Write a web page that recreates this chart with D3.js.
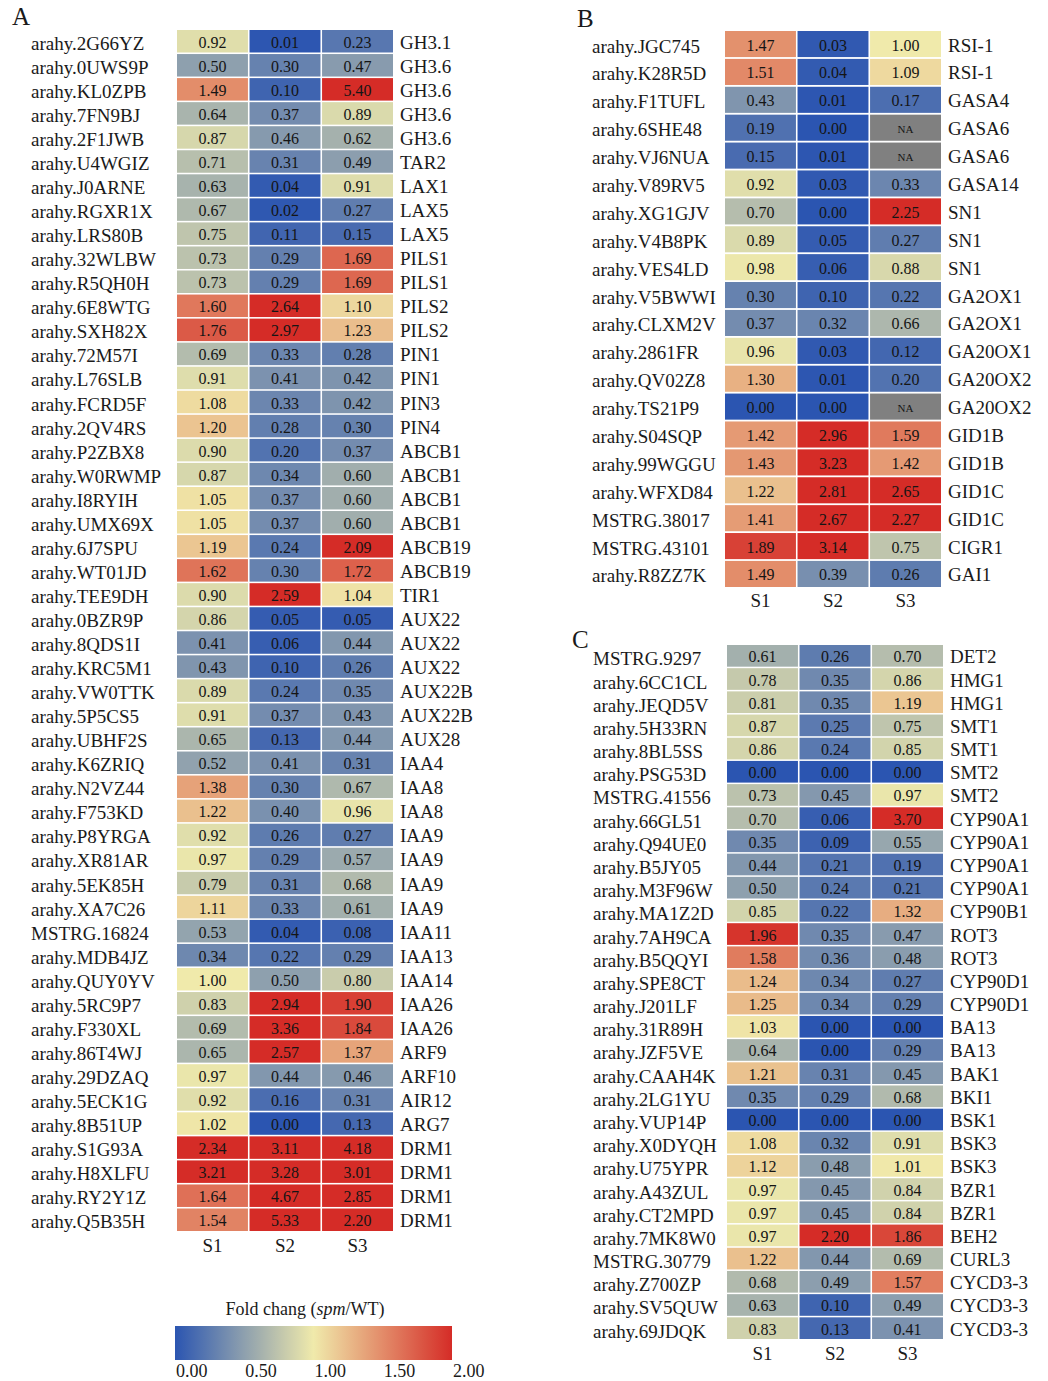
<!DOCTYPE html>
<html>
<head>
<meta charset="utf-8">
<script src="https://cdn.jsdelivr.net/npm/d3@7/dist/d3.min.js"></script>
<style>
  html, body { margin: 0; padding: 0; background: #fff; }
  svg { display: block; }
</style>
</head>
<body>
<svg id="chart" width="1048" height="1381"></svg>
<script>
// ---------------- DATA ----------------
const samples = ["S1", "S2", "S3"];
const legendTicks = [0, 0.5, 1, 1.5, 2];

// Panel A (auxin)
const idsA = ["arahy.2G66YZ","arahy.0UWS9P","arahy.KL0ZPB","arahy.7FN9BJ","arahy.2F1JWB","arahy.U4WGIZ","arahy.J0ARNE","arahy.RGXR1X","arahy.LRS80B","arahy.32WLBW","arahy.R5QH0H","arahy.6E8WTG","arahy.SXH82X","arahy.72M57I","arahy.L76SLB","arahy.FCRD5F","arahy.2QV4RS","arahy.P2ZBX8","arahy.W0RWMP","arahy.I8RYIH","arahy.UMX69X","arahy.6J7SPU","arahy.WT01JD","arahy.TEE9DH","arahy.0BZR9P","arahy.8QDS1I","arahy.KRC5M1","arahy.VW0TTK","arahy.5P5CS5","arahy.UBHF2S","arahy.K6ZRIQ","arahy.N2VZ44","arahy.F753KD","arahy.P8YRGA","arahy.XR81AR","arahy.5EK85H","arahy.XA7C26","MSTRG.16824","arahy.MDB4JZ","arahy.QUY0YV","arahy.5RC9P7","arahy.F330XL","arahy.86T4WJ","arahy.29DZAQ","arahy.5ECK1G","arahy.8B51UP","arahy.S1G93A","arahy.H8XLFU","arahy.RY2Y1Z","arahy.Q5B35H"];
const namesA = ["GH3.1","GH3.6","GH3.6","GH3.6","GH3.6","TAR2","LAX1","LAX5","LAX5","PILS1","PILS1","PILS2","PILS2","PIN1","PIN1","PIN3","PIN4","ABCB1","ABCB1","ABCB1","ABCB1","ABCB19","ABCB19","TIR1","AUX22","AUX22","AUX22","AUX22B","AUX22B","AUX28","IAA4","IAA8","IAA8","IAA9","IAA9","IAA9","IAA9","IAA11","IAA13","IAA14","IAA26","IAA26","ARF9","ARF10","AIR12","ARG7","DRM1","DRM1","DRM1","DRM1"];
const s1A = [0.92,0.50,1.49,0.64,0.87,0.71,0.63,0.67,0.75,0.73,0.73,1.60,1.76,0.69,0.91,1.08,1.20,0.90,0.87,1.05,1.05,1.19,1.62,0.90,0.86,0.41,0.43,0.89,0.91,0.65,0.52,1.38,1.22,0.92,0.97,0.79,1.11,0.53,0.34,1.00,0.83,0.69,0.65,0.97,0.92,1.02,2.34,3.21,1.64,1.54];
const s2A = [0.01,0.30,0.10,0.37,0.46,0.31,0.04,0.02,0.11,0.29,0.29,2.64,2.97,0.33,0.41,0.33,0.28,0.20,0.34,0.37,0.37,0.24,0.30,2.59,0.05,0.06,0.10,0.24,0.37,0.13,0.41,0.30,0.40,0.26,0.29,0.31,0.33,0.04,0.22,0.50,2.94,3.36,2.57,0.44,0.16,0.00,3.11,3.28,4.67,5.33];
const s3A = [0.23,0.47,5.40,0.89,0.62,0.49,0.91,0.27,0.15,1.69,1.69,1.10,1.23,0.28,0.42,0.42,0.30,0.37,0.60,0.60,0.60,2.09,1.72,1.04,0.05,0.44,0.26,0.35,0.43,0.44,0.31,0.67,0.96,0.27,0.57,0.68,0.61,0.08,0.29,0.80,1.90,1.84,1.37,0.46,0.31,0.13,4.18,3.01,2.85,2.20];

// Panel B (gibberellin)
const idsB = ["arahy.JGC745","arahy.K28R5D","arahy.F1TUFL","arahy.6SHE48","arahy.VJ6NUA","arahy.V89RV5","arahy.XG1GJV","arahy.V4B8PK","arahy.VES4LD","arahy.V5BWWI","arahy.CLXM2V","arahy.2861FR","arahy.QV02Z8","arahy.TS21P9","arahy.S04SQP","arahy.99WGGU","arahy.WFXD84","MSTRG.38017","MSTRG.43101","arahy.R8ZZ7K"];
const namesB = ["RSI-1","RSI-1","GASA4","GASA6","GASA6","GASA14","SN1","SN1","SN1","GA2OX1","GA2OX1","GA20OX1","GA20OX2","GA20OX2","GID1B","GID1B","GID1C","GID1C","CIGR1","GAI1"];
const s1B = [1.47,1.51,0.43,0.19,0.15,0.92,0.70,0.89,0.98,0.30,0.37,0.96,1.30,0.00,1.42,1.43,1.22,1.41,1.89,1.49];
const s2B = [0.03,0.04,0.01,0.00,0.01,0.03,0.00,0.05,0.06,0.10,0.32,0.03,0.01,0.00,2.96,3.23,2.81,2.67,3.14,0.39];
const s3B = [1.00,1.09,0.17,null,null,0.33,2.25,0.27,0.88,0.22,0.66,0.12,0.20,null,1.59,1.42,2.65,2.27,0.75,0.26];

// Panel C (brassinosteroid)
const idsC = ["MSTRG.9297","arahy.6CC1CL","arahy.JEQD5V","arahy.5H33RN","arahy.8BL5SS","arahy.PSG53D","MSTRG.41556","arahy.66GL51","arahy.Q94UE0","arahy.B5JY05","arahy.M3F96W","arahy.MA1Z2D","arahy.7AH9CA","arahy.B5QQYI","arahy.SPE8CT","arahy.J201LF","arahy.31R89H","arahy.JZF5VE","arahy.CAAH4K","arahy.2LG1YU","arahy.VUP14P","arahy.X0DYQH","arahy.U75YPR","arahy.A43ZUL","arahy.CT2MPD","arahy.7MK8W0","MSTRG.30779","arahy.Z700ZP","arahy.SV5QUW","arahy.69JDQK"];
const namesC = ["DET2","HMG1","HMG1","SMT1","SMT1","SMT2","SMT2","CYP90A1","CYP90A1","CYP90A1","CYP90A1","CYP90B1","ROT3","ROT3","CYP90D1","CYP90D1","BA13","BA13","BAK1","BKI1","BSK1","BSK3","BSK3","BZR1","BZR1","BEH2","CURL3","CYCD3-3","CYCD3-3","CYCD3-3"];
const s1C = [0.61,0.78,0.81,0.87,0.86,0.00,0.73,0.70,0.35,0.44,0.50,0.85,1.96,1.58,1.24,1.25,1.03,0.64,1.21,0.35,0.00,1.08,1.12,0.97,0.97,0.97,1.22,0.68,0.63,0.83];
const s2C = [0.26,0.35,0.35,0.25,0.24,0.00,0.45,0.06,0.09,0.21,0.24,0.22,0.35,0.36,0.34,0.34,0.00,0.00,0.31,0.29,0.00,0.32,0.48,0.45,0.45,2.20,0.44,0.49,0.10,0.13];
const s3C = [0.70,0.86,1.19,0.75,0.85,0.00,0.97,3.70,0.55,0.19,0.21,1.32,0.47,0.48,0.27,0.29,0.00,0.29,0.45,0.68,0.00,0.91,1.01,0.84,0.84,1.86,0.69,1.57,0.49,0.41];

// ---------------- DRAWING ----------------
const FONT = "'Liberation Serif','Times New Roman',Times,serif";
const svg = d3.select("#chart");
svg.append("rect").attr("width", 1048).attr("height", 1381).attr("fill", "#fff");

const color = d3.scaleLinear()
  .domain([0, 1, 2])
  .range(["#2b55b1", "#f0eaab", "#d52c27"])
  .interpolate(d3.interpolateRgb)
  .clamp(true);
const NA_COLOR = "#808080";
const fmt = d3.format(".2f");

function drawPanel(o) {
  const g = svg.append("g");
  const rows = o.ids.map((id, i) => ({ id, name: o.names[i], vals: [o.s1[i], o.s2[i], o.s3[i]] }));
  const x = d3.scaleBand().domain(samples).range(o.xr).paddingInner(0.022);
  const y = d3.scaleBand().domain(o.ids).range(o.yr).paddingInner(0.065);

  const cells = [];
  rows.forEach(r => r.vals.forEach((v, j) => cells.push({ id: r.id, s: samples[j], v })));

  g.selectAll("rect.cell").data(cells).join("rect")
    .attr("class", "cell")
    .attr("x", d => x(d.s))
    .attr("y", d => y(d.id))
    .attr("width", x.bandwidth())
    .attr("height", y.bandwidth())
    .attr("fill", d => d.v == null ? NA_COLOR : color(d.v));

  g.selectAll("text.val").data(cells).join("text")
    .attr("class", "val")
    .attr("x", d => x(d.s) + x.bandwidth() / 2)
    .attr("y", d => y(d.id) + y.bandwidth() / 2 + 1)
    .attr("text-anchor", "middle")
    .attr("dominant-baseline", "central")
    .attr("font-family", FONT)
    .attr("font-size", d => d.v == null ? 11 : 16)
    .attr("fill", "#151515")
    .text(d => d.v == null ? "NA" : fmt(d.v));

  g.selectAll("text.id").data(rows).join("text")
    .attr("class", "id")
    .attr("x", o.leftX)
    .attr("y", d => y(d.id) + y.bandwidth() / 2 + o.labelDy)
    .attr("dominant-baseline", "central")
    .attr("font-family", FONT)
    .attr("font-size", 19)
    .attr("fill", "#1a1a1a")
    .text(d => d.id);

  g.selectAll("text.name").data(rows).join("text")
    .attr("class", "name")
    .attr("x", o.rightX)
    .attr("y", d => y(d.id) + y.bandwidth() / 2 + 1)
    .attr("dominant-baseline", "central")
    .attr("font-family", FONT)
    .attr("font-size", 19)
    .attr("fill", "#1a1a1a")
    .text(d => d.name);

  g.selectAll("text.samp").data(samples).join("text")
    .attr("class", "samp")
    .attr("x", d => x(d) + x.bandwidth() / 2)
    .attr("y", o.sampY)
    .attr("text-anchor", "middle")
    .attr("font-family", FONT)
    .attr("font-size", 19)
    .attr("fill", "#1a1a1a")
    .text(d => d);

  g.append("text")
    .attr("x", o.letterX).attr("y", o.letterY)
    .attr("font-family", FONT)
    .attr("font-size", 25)
    .attr("fill", "#1a1a1a")
    .text(o.letter);
}

drawPanel({ ids: idsA, names: namesA, s1: s1A, s2: s2A, s3: s3A,
  xr: [177, 393], yr: [30, 1231], leftX: 31, rightX: 400, labelDy: 2,
  sampY: 1252, letter: "A", letterX: 12, letterY: 25 });

drawPanel({ ids: idsB, names: namesB, s1: s1B, s2: s2B, s3: s3B,
  xr: [725, 941], yr: [31, 587], leftX: 592, rightX: 948, labelDy: 2,
  sampY: 607, letter: "B", letterX: 577, letterY: 27 });

drawPanel({ ids: idsC, names: namesC, s1: s1C, s2: s2C, s3: s3C,
  xr: [727, 943], yr: [645, 1339], leftX: 593, rightX: 950, labelDy: 3,
  sampY: 1360, letter: "C", letterX: 572, letterY: 648 });

// ---------------- LEGEND ----------------
const lx = d3.scaleLinear().domain([0, 2]).range([175, 452]);
const defs = svg.append("defs");
const grad = defs.append("linearGradient").attr("id", "lg")
  .attr("x1", "0%").attr("x2", "100%").attr("y1", "0%").attr("y2", "0%");
d3.range(0, 2.0001, 0.1).forEach(v => {
  grad.append("stop").attr("offset", (v / 2 * 100) + "%").attr("stop-color", color(v));
});
svg.append("rect")
  .attr("x", lx(0)).attr("y", 1326)
  .attr("width", lx(2) - lx(0)).attr("height", 34)
  .attr("fill", "url(#lg)");

const title = svg.append("text")
  .attr("x", 305).attr("y", 1315)
  .attr("text-anchor", "middle")
  .attr("font-family", FONT).attr("font-size", 18).attr("fill", "#1a1a1a");
title.append("tspan").text("Fold chang (");
title.append("tspan").attr("font-style", "italic").text("spm");
title.append("tspan").text("/WT)");

svg.selectAll("text.lt").data(legendTicks).join("text")
  .attr("class", "lt")
  .attr("x", d => lx(d) + 1)
  .attr("y", 1377)
  .attr("font-family", FONT).attr("font-size", 18).attr("fill", "#1a1a1a")
  .text(d => fmt(d));
</script>
</body>
</html>
